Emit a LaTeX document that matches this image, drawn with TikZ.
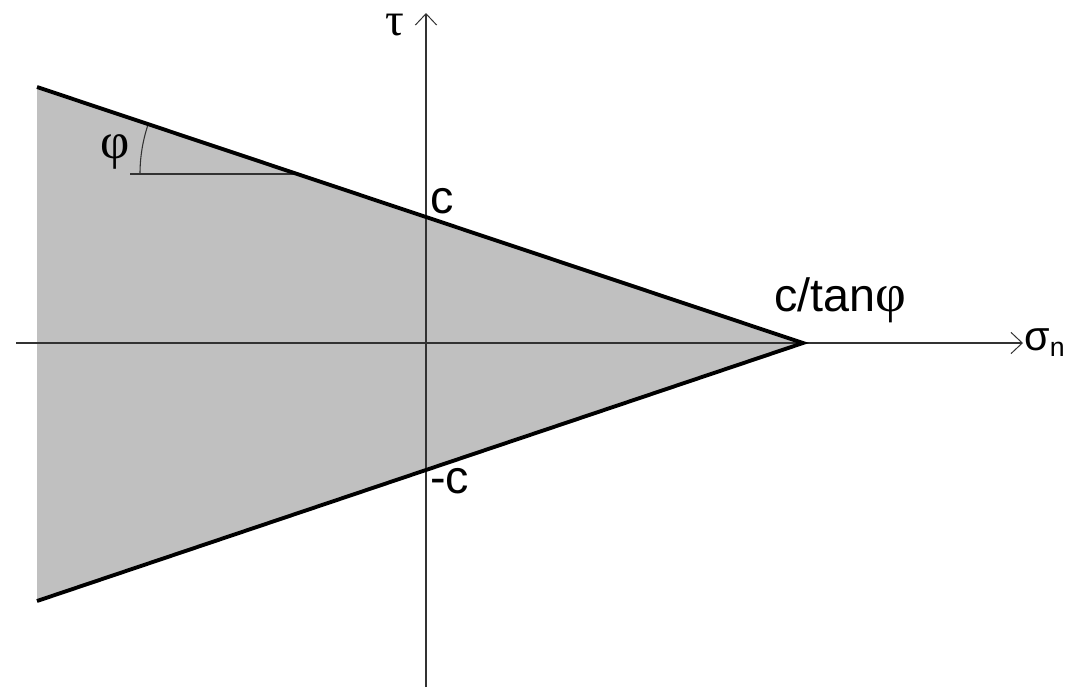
\documentclass[tikz,border=0pt]{standalone}
\usepackage{fontspec}
\setmainfont{Liberation Sans}
\newfontfamily\serifgr{Liberation Serif}
\usetikzlibrary{arrows.meta,angles}
\definecolor{fillgray}{RGB}{192,192,192}
\definecolor{axisgray}{RGB}{50,50,50}
\begin{document}
\begin{tikzpicture}[x=0.75pt,y=-0.75pt,
  axis/.style={line width=0.9pt, draw=axisgray, -{Straight Barb[length=8.5pt,width=16pt,line width=0.75pt]}},
  envelope/.style={line width=2.9pt, draw=black, line join=miter},
  thinline/.style={line width=0.8pt, draw=axisgray},
  lbl/.style={inner sep=0pt, font=\fontsize{35}{40}\selectfont},
  sig/.style={inner sep=0pt, font=\fontsize{31}{36}\selectfont},
  gr/.style={inner sep=0pt, font=\fontsize{38}{42}\selectfont\serifgr}]
\useasboundingbox (0,0) rectangle (1071,687);
% key points
\coordinate (A) at (37,87);
\coordinate (P) at (803,343);
\coordinate (B) at (37,601);
\coordinate (xs) at (16,343);
\coordinate (xe) at (1023,343);
\coordinate (ys) at (426,687);
\coordinate (ye) at (426,13);
\coordinate (H) at (296,174);
\coordinate (L) at (130,174);
% region
\fill[fillgray] (A) -- (P) -- (B) -- cycle;
% axes
\draw[axis] (xs) -- (xe);
\draw[axis] (ys) -- (ye);
% angle construction
\draw[thinline] (L) -- (H);
\pic[draw=axisgray, line width=0.8pt, angle radius=117pt] {angle = A--H--L};
% envelope
\draw[envelope] (A) -- (P) -- (B);
% labels
\node[inner sep=0pt, font=\fontsize{35}{38}\selectfont\serifgr, anchor=base] (tau) at (395,35) {τ};
\node[lbl, anchor=base west] (c) at (430,213) {c};
\node[lbl, anchor=base west] (mc) at (430,493) {-c};
\node[lbl, anchor=base west] (ct) at (774,311) {c/tan{\serifgr\fontsize{40}{44}\selectfont φ}};
\node[gr, anchor=base west] (phi) at (100,158) {φ};
\node[sig, anchor=base west] (sn) at (1024,350) {σ\raisebox{-5pt}{\fontsize{20}{22}\selectfont n}};
\end{tikzpicture}
\end{document}
